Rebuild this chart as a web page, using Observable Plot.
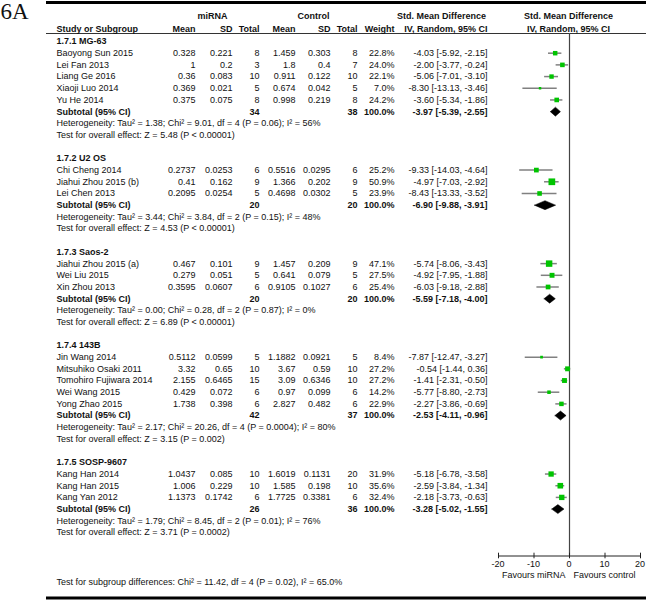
<!DOCTYPE html>
<html><head><meta charset="utf-8">
<script src="https://cdn.jsdelivr.net/npm/d3@7"></script>
<script src="https://cdn.jsdelivr.net/npm/@observablehq/plot@0.6"></script>
<style>body{margin:0;background:#fff}</style>
</head><body><div id="chart"></div>
<script>
// ---------------- DATA ----------------
const figureLabel = "6A";
const groupNames = ["1.7.1 MG-63", "1.7.2 U2 OS", "1.7.3 Saos-2", "1.7.4 143B", "1.7.5 SOSP-9607"];
const studyNames = [
  "Baoyong Sun 2015", "Lei Fan 2013", "Liang Ge 2016", "Xiaoji Luo 2014", "Yu He 2014",
  "Chi Cheng 2014", "Jiahui Zhou 2015 (b)", "Lei Chen 2013",
  "Jiahui Zhou 2015 (a)", "Wei Liu 2015", "Xin Zhou 2013",
  "Jin Wang 2014", "Mitsuhiko Osaki 2011", "Tomohiro Fujiwara 2014", "Wei Wang 2015", "Yong Zhao 2015",
  "Kang Han 2014", "Kang Han 2015", "Kang Yan 2012"
];
const studyGroup = [0,0,0,0,0, 1,1,1, 2,2,2, 3,3,3,3,3, 4,4,4];
const miMean = [0.328, 1, 0.36, 0.369, 0.375, 0.2737, 0.41, 0.2095, 0.467, 0.279, 0.3595, 0.5112, 3.32, 2.155, 0.429, 1.738, 1.0437, 1.006, 1.1373];
const miSD   = [0.221, 0.2, 0.083, 0.021, 0.075, 0.0253, 0.162, 0.0254, 0.101, 0.051, 0.0607, 0.0599, 0.65, 0.6465, 0.072, 0.398, 0.085, 0.229, 0.1742];
const miN    = [8, 3, 10, 5, 8, 6, 9, 5, 9, 5, 6, 5, 10, 15, 6, 6, 10, 10, 6];
const ctMean = [1.459, 1.8, 0.911, 0.674, 0.998, 0.5516, 1.366, 0.4698, 1.457, 0.641, 0.9105, 1.1882, 3.67, 3.09, 0.97, 2.827, 1.6019, 1.585, 1.7725];
const ctSD   = [0.303, 0.4, 0.122, 0.042, 0.219, 0.0295, 0.202, 0.0302, 0.209, 0.079, 0.1027, 0.0921, 0.59, 0.6346, 0.099, 0.482, 0.1131, 0.198, 0.3381];
const ctN    = [8, 7, 10, 5, 8, 6, 9, 5, 9, 5, 6, 5, 10, 10, 6, 6, 20, 10, 6];
const weight = [22.8, 24.0, 22.1, 7.0, 24.2, 25.2, 50.9, 23.9, 47.1, 27.5, 25.4, 8.4, 27.2, 27.2, 14.2, 22.9, 31.9, 35.6, 32.4];
const smd    = [-4.03, -2.00, -5.06, -8.30, -3.60, -9.33, -4.97, -8.43, -5.74, -4.92, -6.03, -7.87, -0.54, -1.41, -5.77, -2.27, -5.18, -2.59, -2.18];
const ciLo   = [-5.92, -3.77, -7.01, -13.13, -5.34, -14.03, -7.03, -13.33, -8.06, -7.95, -9.18, -12.47, -1.44, -2.31, -8.80, -3.86, -6.78, -3.84, -3.73];
const ciHi   = [-2.15, -0.24, -3.10, -3.46, -1.86, -4.64, -2.92, -3.52, -3.43, -1.88, -2.88, -3.27, 0.36, -0.50, -2.73, -0.69, -3.58, -1.34, -0.63];
const subMiN = [34, 20, 20, 42, 26];
const subCtN = [38, 20, 20, 37, 36];
const subSmd = [-3.97, -6.90, -5.59, -2.53, -3.28];
const subLo  = [-5.39, -9.88, -7.18, -4.11, -5.02];
const subHi  = [-2.55, -3.91, -4.00, -0.96, -1.55];
const hetText = [
  "Heterogeneity: Tau² = 1.38; Chi² = 9.01, df = 4 (P = 0.06); I² = 56%",
  "Heterogeneity: Tau² = 3.44; Chi² = 3.84, df = 2 (P = 0.15); I² = 48%",
  "Heterogeneity: Tau² = 0.00; Chi² = 0.28, df = 2 (P = 0.87); I² = 0%",
  "Heterogeneity: Tau² = 2.17; Chi² = 20.26, df = 4 (P = 0.0004); I² = 80%",
  "Heterogeneity: Tau² = 1.79; Chi² = 8.45, df = 2 (P = 0.01); I² = 76%"
];
const effectText = [
  "Test for overall effect: Z = 5.48 (P < 0.00001)",
  "Test for overall effect: Z = 4.53 (P < 0.00001)",
  "Test for overall effect: Z = 6.89 (P < 0.00001)",
  "Test for overall effect: Z = 3.15 (P = 0.002)",
  "Test for overall effect: Z = 3.71 (P = 0.0002)"
];
const subgroupTest = "Test for subgroup differences: Chi² = 11.42, df = 4 (P = 0.02), I² = 65.0%";
const groupTitles = ["miRNA", "Control", "Std. Mean Difference", "Std. Mean Difference"];
const columnTitles = ["Study or Subgroup", "Mean", "SD", "Total", "Mean", "SD", "Total", "Weight", "IV, Random, 95% CI", "IV, Random, 95% CI"];
const subtotalLabel = "Subtotal (95% CI)";
const xTicks = [-20, -10, 0, 10, 20];
const favoursLeft = "Favours miRNA";
const favoursRight = "Favours control";

// ---------------- LAYOUT ----------------
const W = 650, H = 600, ML = 46, MR = 4;
const ROW0 = 41, ROWH = 11.69;
const py = px => (px - ROW0) / ROWH;   // pixel -> row units
const FONT = "'Liberation Sans', Arial, Helvetica, sans-serif";
const colX = [56, 195, 232, 259, 295, 330, 357, 394, 487, 568];
const colAnchor = ["start", "end", "end", "end", "end", "end", "end", "end", "end", "middle"];
const topX = [212, 313, 441, 568];

// build row structure
let r = 0;
const headerRows = [], studyRows = [], subRows = [], noteRows = [];
groupNames.forEach((g, gi) => {
  headerRows.push({row: r, text: g}); r++;
  studyNames.forEach((n, i) => { if (studyGroup[i] === gi) { studyRows.push({row: r, i}); r++; } });
  subRows.push({row: r, gi}); r++;
  noteRows.push({row: r, text: hetText[gi]}); r++;
  noteRows.push({row: r, text: effectText[gi]}); r++;
  r++;
});
const diamonds = [];
const DH = 0.385;
subRows.forEach(d => {
  const g = d.gi;
  diamonds.push({g, x: subLo[g], y: d.row}, {g, x: subSmd[g], y: d.row - DH},
                {g, x: subHi[g], y: d.row}, {g, x: subSmd[g], y: d.row + DH}, {g, x: subLo[g], y: d.row});
});

const txt = (data, px, text, o = {}) => Plot.text(data, {
  y: o.y ?? "row", text, frameAnchor: "left", dx: px - ML,
  textAnchor: o.anchor ?? "end", fontWeight: o.bold ? "bold" : "normal",
  fill: "#111", fontSize: o.size ?? 9, fontFamily: o.font ?? FONT, fontStyle: o.style
});
const fmtCI = (e, l, h) => `${e.toFixed(2)} [${l.toFixed(2)}, ${h.toFixed(2)}]`;

const axisRow = py(555.5);
const tickAnchor = d => d === xTicks[0] ? "start" : d === xTicks[xTicks.length - 1] ? "end" : "middle";
const tickDx = d => d === xTicks[0] ? -2 : d === xTicks[xTicks.length - 1] ? 1 : 0;
const marks = [
  Plot.ruleY([py(2)], {stroke: "#000", strokeWidth: 3}),
  Plot.ruleY([py(597.5)], {stroke: "#000", strokeWidth: 3}),
  Plot.ruleY([py(33)], {stroke: "#333", strokeWidth: 1}),
  txt([0], 0, () => figureLabel, {y: () => py(11.5), anchor: "start", size: 23, font: "'Liberation Serif', 'Times New Roman', serif"}),
  // group titles
  ...groupTitles.map((t, k) => txt([0], topX[k], () => t, {y: () => py(16), anchor: "middle", bold: true})),
  ...columnTitles.map((t, k) => txt([0], colX[k], () => t, {y: () => py(29), anchor: colAnchor[k], bold: true})),
  // group headers
  txt(headerRows, colX[0], "text", {anchor: "start", bold: true}),
  // study rows
  txt(studyRows, colX[0], d => studyNames[d.i], {anchor: "start"}),
  txt(studyRows, colX[1], d => String(miMean[d.i])),
  txt(studyRows, colX[2], d => String(miSD[d.i])),
  txt(studyRows, colX[3], d => String(miN[d.i])),
  txt(studyRows, colX[4], d => String(ctMean[d.i])),
  txt(studyRows, colX[5], d => String(ctSD[d.i])),
  txt(studyRows, colX[6], d => String(ctN[d.i])),
  txt(studyRows, colX[7], d => weight[d.i].toFixed(1) + "%"),
  txt(studyRows, colX[8], d => fmtCI(smd[d.i], ciLo[d.i], ciHi[d.i])),
  // subtotals
  txt(subRows, colX[0], () => subtotalLabel, {anchor: "start", bold: true}),
  txt(subRows, colX[3], d => String(subMiN[d.gi]), {bold: true}),
  txt(subRows, colX[6], d => String(subCtN[d.gi]), {bold: true}),
  txt(subRows, colX[7], () => "100.0%", {bold: true}),
  txt(subRows, colX[8], d => fmtCI(subSmd[d.gi], subLo[d.gi], subHi[d.gi]), {bold: true}),
  // notes
  txt(noteRows, colX[0], "text", {anchor: "start"}),
  txt([0], colX[0], () => subgroupTest, {y: () => py(582), anchor: "start"}),
  // forest plot
  Plot.ruleX([0], {y1: py(33), y2: axisRow, stroke: "#444", strokeWidth: 1.2}),
  Plot.ruleY(studyRows, {y: "row", x1: d => ciLo[d.i], x2: d => ciHi[d.i], stroke: "#808080", strokeWidth: 1.5}),
  Plot.dot(studyRows, {x: d => smd[d.i], y: "row", r: d => weight[d.i], symbol: "square", fill: "#00c400", stroke: "none"}),
  Plot.line(diamonds, {x: "x", y: "y", z: "g", fill: "#000", stroke: "#000", strokeWidth: 0.5}),
  // axis
  Plot.ruleY([axisRow], {x1: xTicks[0], x2: xTicks[xTicks.length - 1], stroke: "#222", strokeWidth: 1}),
  Plot.ruleX(xTicks, {x: d => d, y1: axisRow - 0.24, y2: axisRow + 0.24, stroke: "#222", strokeWidth: 1}),
  Plot.text(xTicks, {x: d => d, y: py(564), text: d => String(d), textAnchor: tickAnchor, dx: tickDx, fontSize: 9, fill: "#111", fontFamily: FONT}),
  Plot.text([0], {x: 0, y: py(575), text: () => favoursLeft, textAnchor: "end", dx: -4, fontSize: 9, fill: "#111", fontFamily: FONT}),
  Plot.text([0], {x: 0, y: py(575), text: () => favoursRight, textAnchor: "start", dx: 4, fontSize: 9, fill: "#111", fontFamily: FONT})
];

const chart = Plot.plot({
  width: W, height: H,
  marginLeft: ML, marginRight: MR, marginTop: 0, marginBottom: 0,
  style: {fontFamily: FONT, fontSize: "9px", background: "#fff", color: "#111"},
  x: {domain: [-20, 20], range: [498, 640], axis: null},
  y: {domain: [0, 1], range: [ROW0, ROW0 + ROWH], axis: null},
  r: {type: "sqrt", domain: [0, 100], range: [0, 5.3]},
  marks
});
document.getElementById("chart").appendChild(chart);
</script>
</body></html>
